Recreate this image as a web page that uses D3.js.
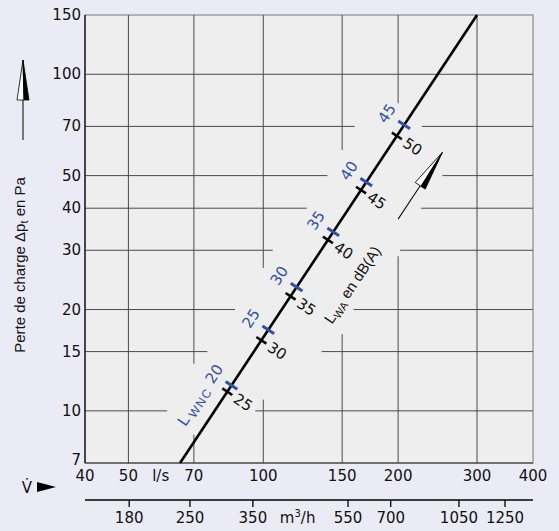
<!DOCTYPE html>
<html>
<head>
<meta charset="utf-8">
<script src="https://cdn.jsdelivr.net/npm/d3@7"></script>
<style>
body { margin: 0; background: #ebebf5; }
text { font-family: "Liberation Sans", Arial, sans-serif; fill: #111; }
text.num { font-family: "DejaVu Sans", sans-serif; }
</style>
</head>
<body>
<svg id="chart" width="559" height="531"></svg>
<script>
// axis ticks
var flowTicks = [40, 50, 70, 100, 150, 200, 300, 400];     // l/s
var lossTicks = [7, 10, 15, 20, 30, 40, 50, 70, 100, 150];  // Pa

// the duct curve (end points)
var lineFlow = [65.2, 300];
var lineLoss = [7, 150];

// sound level marks along the curve
var lwaLevels = [25, 30, 35, 40, 45, 50];
var lwaLoss = [11.4, 16.2, 21.9, 32.2, 45.3, 65.6];
var lwncLevels = [20, 25, 30, 35, 40, 45];
var lwncLoss = [11.9, 17.4, 23.3, 34.0, 47.8, 70.7];

// second flow axis in m3/h, with where each tick sits on the l/s scale
var m3hLabels = [180, 250, 350, 550, 700, 1050, 1250];
var m3hAtFlow = [50.2, 68.6, 94.8, 154.6, 192.5, 273.4, 346.4];

// gaps left in the printed grid for lettering
var vGridGaps = {70: [8.5, 13.8], 100: [10.8, 26.6], 150: [16.9, 59.6], 200: [28.8, 82]};
var hGridGaps = {10: [61, 96], 15: [75, 135], 20: [86.5, 159], 30: [105, 202], 40: [125, 225], 50: [139, 251], 70: [160, 226]};

var blue = "#3150a6";
var margin = {top: 15, right: 26, bottom: 68, left: 85};
var width = 559 - margin.left - margin.right;
var height = 531 - margin.top - margin.bottom;

var svg = d3.select("#chart");
var g = svg.append("g")
    .attr("transform", "translate(" + margin.left + "," + margin.top + ")");

var x = d3.scaleLog().domain([40, 400]).range([0, width]);
var y = d3.scaleLog().domain([7, 150]).range([height, 0]);

// plot background
g.append("rect")
    .attr("width", width)
    .attr("height", height)
    .attr("fill", "#eeeeee")
    .attr("stroke", "#777")
    .attr("stroke-width", 1);

// vertical grid lines
flowTicks.slice(1, -1).forEach(function(f) {
    var gap = vGridGaps[f];
    var segs = gap ? [[7, gap[0]], [gap[1], 150]] : [[7, 150]];
    segs.forEach(function(s) {
        g.append("line")
            .attr("x1", x(f)).attr("x2", x(f))
            .attr("y1", y(s[0])).attr("y2", y(s[1]))
            .attr("stroke", "#4a4a4a").attr("stroke-width", 1);
    });
});

// horizontal grid lines
lossTicks.slice(1, -1).forEach(function(p) {
    var gap = hGridGaps[p];
    var segs = gap ? [[40, gap[0]], [gap[1], 400]] : [[40, 400]];
    segs.forEach(function(s) {
        g.append("line")
            .attr("y1", y(p)).attr("y2", y(p))
            .attr("x1", x(s[0])).attr("x2", x(s[1]))
            .attr("stroke", "#4a4a4a").attr("stroke-width", 1);
    });
});

// left and bottom frame
g.append("line").attr("x1", 0).attr("x2", 0).attr("y1", 0).attr("y2", height)
    .attr("stroke", "#222").attr("stroke-width", 1.5);
g.append("line").attr("x1", 0).attr("x2", width).attr("y1", height).attr("y2", height)
    .attr("stroke", "#333").attr("stroke-width", 1.2);

// y tick labels
g.selectAll(".ylab")
    .data(lossTicks)
  .enter().append("text")
    .attr("class", "ylab num")
    .attr("x", -4)
    .attr("y", function(d) { return Math.min(y(d) + 5, height + 2); })
    .attr("text-anchor", "end")
    .style("font-size", "15px")
    .text(function(d) { return d; });

// x tick labels
g.selectAll(".xlab")
    .data(flowTicks)
  .enter().append("text")
    .attr("class", "xlab num")
    .attr("x", function(d) { return x(d); })
    .attr("y", height + 18)
    .attr("text-anchor", "middle")
    .style("font-size", "15px")
    .text(function(d) { return d; });

g.append("text")
    .attr("class", "num")
    .attr("x", x(56.5))
    .attr("y", height + 18)
    .style("font-size", "15px")
    .text("l/s");

// the curve
var curve = lineFlow.map(function(f, i) { return [x(f), y(lineLoss[i])]; });
g.append("path")
    .attr("d", d3.line()(curve))
    .attr("fill", "none")
    .attr("stroke", "#000")
    .attr("stroke-width", 2.6);

var dx = curve[1][0] - curve[0][0], dy = curve[1][1] - curve[0][1];
var len = Math.sqrt(dx * dx + dy * dy);
var ux = dx / len, uy = dy / len;     // along the curve
var nx = -uy, ny = ux;                // across it, towards lower right
var angle = Math.atan2(dy, dx) * 180 / Math.PI;

function onCurve(p) {
    var t = Math.log(p / lineLoss[0]) / Math.log(lineLoss[1] / lineLoss[0]);
    var f = lineFlow[0] * Math.pow(lineFlow[1] / lineFlow[0], t);
    return [x(f), y(p)];
}

// L_WA marks (black)
lwaLoss.forEach(function(p, i) {
    var c = onCurve(p);
    g.append("line")
        .attr("x1", c[0] - 6 * nx).attr("y1", c[1] - 6 * ny)
        .attr("x2", c[0] + 6 * nx).attr("y2", c[1] + 6 * ny)
        .attr("stroke", "#000").attr("stroke-width", 2.5);
    g.append("text")
        .attr("class", "num")
        .attr("transform", "translate(" + (c[0] + 19 * nx) + "," + (c[1] + 19 * ny) + ") rotate(" + (angle + 90) + ")")
        .attr("text-anchor", "middle")
        .attr("dy", "0.36em")
        .style("font-size", "15px")
        .text(lwaLevels[i]);
});

// L_WNC marks (blue)
lwncLoss.forEach(function(p, i) {
    var c = onCurve(p);
    g.append("line")
        .attr("x1", c[0] - 7 * nx).attr("y1", c[1] - 7 * ny)
        .attr("x2", c[0] + 7 * nx).attr("y2", c[1] + 7 * ny)
        .attr("stroke", blue).attr("stroke-width", 3);
    var lab = g.append("g")
        .attr("transform", "translate(" + (c[0] - 21 * nx) + "," + (c[1] - 21 * ny) + ") rotate(" + angle + ")");
    lab.append("text")
        .attr("class", "num")
        .attr("text-anchor", "middle")
        .attr("dy", "0.36em")
        .style("font-size", "15px")
        .style("fill", blue)
        .text(lwncLevels[i]);
    if (i == 0) {
        var t = lab.append("text")
            .attr("x", -15)
            .attr("dy", "0.36em")
            .attr("text-anchor", "end")
            .style("font-size", "16px")
            .style("fill", blue);
        t.append("tspan").text("L");
        t.append("tspan").attr("dx", 3).attr("dy", 3).style("font-size", "12px")
            .style("letter-spacing", "1.5px").style("fill", blue).text("WNC");
    }
});

// "L_WA en dB(A)" along the curve
var cw = onCurve(28.1);
var tw = g.append("text")
    .attr("transform", "translate(" + (cw[0] + 45 * nx) + "," + (cw[1] + 45 * ny) + ") rotate(" + angle + ")")
    .attr("text-anchor", "middle")
    .attr("dy", "0.35em")
    .style("font-size", "15px");
tw.append("tspan").text("L");
tw.append("tspan").attr("dy", 3).style("font-size", "11px").text("WA");
tw.append("tspan").attr("dy", -3).text(" en dB(A)");

// half filled arrow, drawn pointing along +x, centred on 0
function arrow(sel) {
    sel.append("line").attr("x1", -40).attr("x2", 0).attr("y1", 0).attr("y2", 0)
        .attr("stroke", "#000").attr("stroke-width", 1);
    sel.append("path").attr("d", "M40,0L0,-6L0,1Z")
        .attr("fill", "#fff").attr("stroke", "#000").attr("stroke-width", 0.8);
    sel.append("path").attr("d", "M40,0L0,1L0,6Z")
        .attr("fill", "#000").attr("stroke", "#000").attr("stroke-width", 0.8);
}

var ca = onCurve(55.7);
arrow(g.append("g")
    .attr("transform", "translate(" + (ca[0] + 47 * nx) + "," + (ca[1] + 47 * ny) + ") rotate(" + angle + ")"));

// y axis title and arrow
arrow(svg.append("g").attr("transform", "translate(23,100) rotate(-90)"));

var yt = svg.append("text")
    .attr("transform", "translate(25,265) rotate(-90)")
    .attr("text-anchor", "middle")
    .style("font-size", "15px");
yt.append("tspan").text("Perte de charge Δp");
yt.append("tspan").attr("dy", 3).style("font-size", "11px").text("t");
yt.append("tspan").attr("dy", -3).text(" en Pa");

// V-dot with pointer
svg.append("text")
    .attr("class", "num")
    .attr("x", 27).attr("y", 493)
    .attr("text-anchor", "middle")
    .style("font-size", "15px")
    .text("V\u0307");
svg.append("path")
    .attr("d", "M37,482L56,487L37,492Z")
    .attr("fill", "#000");

// m3/h scale
var m3h = svg.append("g").attr("transform", "translate(" + margin.left + ",500)");
m3h.append("line").attr("x1", 0).attr("x2", width)
    .attr("stroke", "#000").attr("stroke-width", 1.6);
m3hAtFlow.forEach(function(f, i) {
    m3h.append("line")
        .attr("x1", x(f)).attr("x2", x(f))
        .attr("y1", 0).attr("y2", 7)
        .attr("stroke", "#000").attr("stroke-width", 1.3);
    m3h.append("text")
        .attr("class", "num")
        .attr("x", x(f)).attr("y", 23)
        .attr("text-anchor", "middle")
        .style("font-size", "15px")
        .text(m3hLabels[i]);
});
var mu = m3h.append("text")
    .attr("class", "num")
    .attr("x", x(108.9)).attr("y", 23)
    .style("font-size", "15px");
mu.append("tspan").text("m");
mu.append("tspan").attr("dy", -6).style("font-size", "10px").text("3");
mu.append("tspan").attr("dy", 6).text("/h");
</script>
</body>
</html>
